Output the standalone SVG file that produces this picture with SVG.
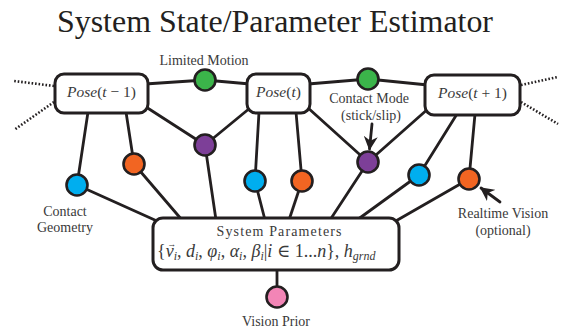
<svg xmlns="http://www.w3.org/2000/svg" width="566" height="331" viewBox="0 0 566 331">
  <defs>
    <style>
      .edge { stroke: #231f20; stroke-width: 2.8; fill: none; stroke-linecap: round; }
      .dots { stroke: #231f20; stroke-width: 2.6; fill: none; stroke-dasharray: 1.6 1.9; }
      .box { fill: #ffffff; stroke: #231f20; stroke-width: 3; }
      .var { stroke: #231f20; stroke-width: 2.6; }
      .green { fill: #3bb44a; }
      .purple { fill: #7d3f98; }
      .cyan { fill: #00aeef; }
      .orange { fill: #f26522; }
      .pink { fill: #f385b6; }
      .title { font-family: "Liberation Serif", serif; font-size: 31px; fill: #231f20; }
      .lbl { font-family: "Liberation Serif", serif; font-size: 14px; fill: #3a3a3a; text-anchor: middle; }
      .math { font-family: "Liberation Serif", "DejaVu Serif", serif; font-size: 15.5px; fill: #3a3a3a; text-anchor: middle; }
      .formula { font-family: "Liberation Serif", "DejaVu Serif", serif; font-size: 18px; fill: #3a3a3a; }
      .acc { font-size: 9px; font-style: normal; }
      .it { font-style: italic; }
      .sub { font-size: 12px; font-style: italic; }
    </style>
    <marker id="arrow" viewBox="0 0 10 10" refX="9" refY="5" markerWidth="5" markerHeight="5" orient="auto">
      <path d="M0,0 L10,5 L0,10 L3,5 Z" fill="#231f20"/>
    </marker>
  </defs>

  <text class="title" x="275" y="32" text-anchor="middle" textLength="436" lengthAdjust="spacingAndGlyphs">System State/Parameter Estimator</text>

  <!-- connectors -->
  <g id="connectors">
    <!-- temporal chain through the motion factors -->
    <line class="edge" x1="145" y1="84" x2="205" y2="80"/>
    <line class="edge" x1="205" y1="80" x2="250" y2="84"/>
    <line class="edge" x1="308" y1="84" x2="368" y2="79"/>
    <line class="edge" x1="368" y1="79" x2="428" y2="85"/>
    <!-- open ends of the chain -->
    <line class="dots" x1="54" y1="86" x2="14" y2="81"/>
    <line class="dots" x1="54" y1="102" x2="14" y2="130"/>
    <line class="dots" x1="521" y1="85" x2="558" y2="77"/>
    <line class="dots" x1="521" y1="102" x2="558" y2="124"/>
    <!-- pose to factor links -->
    <line class="edge" x1="88" y1="112" x2="77" y2="185"/>
    <line class="edge" x1="126" y1="112" x2="134" y2="164"/>
    <line class="edge" x1="146" y1="107" x2="205" y2="145"/>
    <line class="edge" x1="250" y1="108" x2="205" y2="145"/>
    <line class="edge" x1="259" y1="112" x2="255" y2="181"/>
    <line class="edge" x1="296" y1="112" x2="302" y2="181"/>
    <line class="edge" x1="307" y1="107" x2="368" y2="162"/>
    <line class="edge" x1="429" y1="108" x2="368" y2="162"/>
    <line class="edge" x1="457" y1="114" x2="419" y2="175"/>
    <line class="edge" x1="475" y1="114" x2="469" y2="179"/>
    <!-- factor to parameter links -->
    <line class="edge" x1="77" y1="185" x2="157" y2="221"/>
    <line class="edge" x1="134" y1="164" x2="182" y2="220"/>
    <line class="edge" x1="205" y1="145" x2="216" y2="220"/>
    <line class="edge" x1="255" y1="181" x2="265" y2="220"/>
    <line class="edge" x1="302" y1="181" x2="289" y2="220"/>
    <line class="edge" x1="368" y1="162" x2="330" y2="220"/>
    <line class="edge" x1="419" y1="175" x2="357" y2="220"/>
    <line class="edge" x1="469" y1="179" x2="394" y2="222"/>
    <line class="edge" x1="277" y1="268" x2="277" y2="297"/>
    <!-- annotation arrows -->
    <line class="edge" x1="372" y1="124" x2="369.5" y2="149" marker-end="url(#arrow)"/>
    <line class="edge" x1="500" y1="202" x2="481" y2="188" marker-end="url(#arrow)"/>
  </g>

  <!-- pose nodes -->
  <g id="pose-prev">
    <rect class="box" x="55" y="74" width="93" height="39" rx="9"/>
    <text class="math" x="101.5" y="97"><tspan class="it">Pose</tspan>(<tspan class="it">t</tspan> − 1)</text>
  </g>
  <g id="pose-now">
    <rect class="box" x="247" y="74" width="63" height="39" rx="9"/>
    <text class="math" x="278.5" y="97"><tspan class="it">Pose</tspan>(<tspan class="it">t</tspan>)</text>
  </g>
  <g id="pose-next">
    <rect class="box" x="425" y="75" width="95" height="40" rx="9"/>
    <text class="math" x="472.5" y="98"><tspan class="it">Pose</tspan>(<tspan class="it">t</tspan> + 1)</text>
  </g>

  <!-- factor nodes -->
  <g id="motion-1"><circle class="var green" cx="205" cy="80" r="10.5"/></g>
  <g id="motion-2"><circle class="var green" cx="368" cy="79" r="10.5"/></g>
  <g id="mode-1"><circle class="var purple" cx="205" cy="145" r="10.5"/></g>
  <g id="mode-2"><circle class="var purple" cx="368" cy="162" r="10.5"/></g>
  <g id="geometry-1"><circle class="var cyan" cx="77" cy="185" r="10.5"/></g>
  <g id="geometry-2"><circle class="var cyan" cx="255" cy="181" r="10.5"/></g>
  <g id="geometry-3"><circle class="var cyan" cx="419" cy="175" r="10.5"/></g>
  <g id="vision-1"><circle class="var orange" cx="134" cy="164" r="10.5"/></g>
  <g id="vision-2"><circle class="var orange" cx="302" cy="181" r="10.5"/></g>
  <g id="vision-3"><circle class="var orange" cx="469" cy="179" r="10.5"/></g>
  <g id="vision-prior"><circle class="var pink" cx="277" cy="297" r="10.5"/></g>

  <!-- parameter node -->
  <g id="system-parameters">
    <rect class="box" x="153" y="218" width="246" height="52" rx="10"/>
    <text class="lbl" x="279" y="236" textLength="125">System Parameters</text>
    <!-- the vector accent is a small arrow tspan lifted over the v -->
    <text class="formula" x="157" y="257">{<tspan class="it">v</tspan><tspan class="acc" dx="-6.5" dy="-10">→</tspan><tspan class="sub" dx="-2.5" dy="13">i</tspan><tspan dy="-3">, </tspan><tspan class="it">d</tspan><tspan class="sub" dy="3">i</tspan><tspan dy="-3">, </tspan><tspan class="it">φ</tspan><tspan class="sub" dy="3">i</tspan><tspan dy="-3">, </tspan><tspan class="it">α</tspan><tspan class="sub" dy="3">i</tspan><tspan dy="-3">, </tspan><tspan class="it">β</tspan><tspan class="sub" dy="3">i</tspan><tspan dy="-3">|</tspan><tspan class="it">i</tspan> ∈ 1...<tspan class="it">n</tspan>},  <tspan class="it">h</tspan><tspan class="sub" dy="3">grnd</tspan></text>
  </g>

  <!-- labels -->
  <text class="lbl" x="204" y="65">Limited Motion</text>
  <text class="lbl" x="369" y="103">Contact Mode</text>
  <text class="lbl" x="371" y="120">(stick/slip)</text>
  <text class="lbl" x="65" y="216">Contact</text>
  <text class="lbl" x="65" y="232">Geometry</text>
  <text class="lbl" x="503" y="218">Realtime Vision</text>
  <text class="lbl" x="503" y="235">(optional)</text>
  <text class="lbl" x="276" y="326">Vision Prior</text>
</svg>
